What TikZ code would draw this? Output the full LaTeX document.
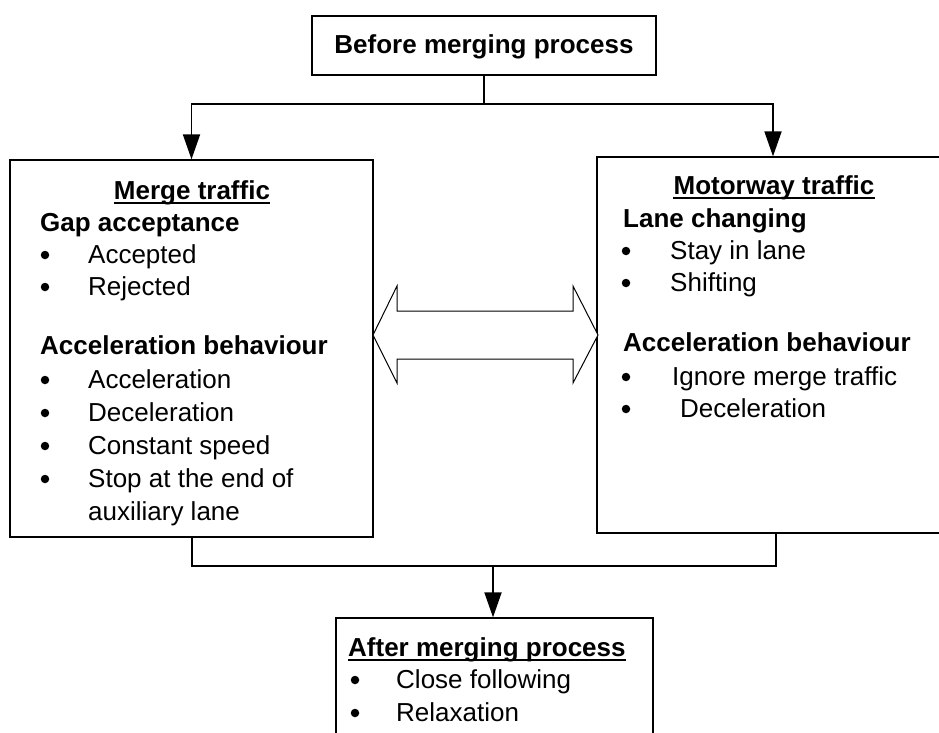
\documentclass[tikz,border=0pt]{standalone}
\usepackage{fontspec}
\setmainfont{Liberation Sans}
\usetikzlibrary{arrows.meta}
\begin{document}
\begin{tikzpicture}[x=1pt,y=-1pt,
  box/.style={draw=black, line width=1.3pt, inner sep=0pt, fill=white},
  conn/.style={line width=1.8pt},
  arr/.style={conn, -{Triangle[length=25pt,width=17pt]}},
  txt/.style={anchor=base west, inner sep=0pt, font=\fontsize{26}{31}\selectfont},
  btxt/.style={anchor=base west, inner sep=0pt, font=\fontsize{26}{31}\selectfont\bfseries},
  ctxt/.style={anchor=base, inner sep=0pt, font=\fontsize{26}{31}\selectfont\bfseries},
  bul/.style={fill=black, circle, inner sep=0pt, minimum size=8.5pt},
  uline/.style={line width=2pt}
]
\useasboundingbox (0,0) rectangle (939,733);
\fill[white] (0,0) rectangle (939,733);
\clip (0,0) rectangle (939,733);

% boxes
\node[box, minimum width=344pt, minimum height=59pt] (top) at (484,45.5) {};
\node[box, minimum width=363pt, minimum height=377pt] (left) at (191.5,348.5) {};
\node[box, minimum width=363pt, minimum height=376pt] (right) at (778.5,345) {};
\node[box, minimum width=317pt, minimum height=127pt] (bottom) at (494.5,681.5) {};

% top text
\node[ctxt] (ttl) at (484,54) {Before merging process};

% connectors from top
\coordinate (split) at (484,104);
\coordinate (lin) at (191.5,104);
\coordinate (rin) at (773,104);
\draw[conn] (top.south) -- (split);
\draw[arr] (split) -- (lin) -- (left.north);
\draw[arr] (split) -- (rin) -- (rin |- right.north);

% connectors to bottom
\coordinate (lout) at (192,566);
\coordinate (rout) at (776,566);
\coordinate (join) at (493,566);
\draw[conn] (lout |- left.south) -- (lout) -- (rout) -- (rout |- right.south);
\draw[arr] (join) -- (join |- bottom.north);

% double arrow between boxes
\draw[line width=1pt, fill=white] (373,335) -- (397,286) -- (397,311) -- (573,311) -- (573,286)
  -- (598,335) -- (573,383) -- (573,359) -- (397,359) -- (397,383) -- cycle;

% left box text
\node[ctxt] (lt) at (192,199) {Merge traffic};
\draw[uline] ([yshift=-4pt]lt.base west) -- ([yshift=-4pt]lt.base east);
\node[btxt] (lh1) at (40,231) {Gap acceptance};
\node[bul] (lb1) at (45,255) {};
\node[txt] (li1) at (88,263) {Accepted};
\node[bul] (lb2) at (45,287) {};
\node[txt] (li2) at (88,295) {Rejected};
\node[btxt] (lh2) at (40,354) {Acceleration behaviour};
\node[bul] (lb3) at (45,380) {};
\node[txt] (li3) at (88,388) {Acceleration};
\node[bul] (lb4) at (45,413) {};
\node[txt] (li4) at (88,421) {Deceleration};
\node[bul] (lb5) at (45,446) {};
\node[txt] (li5) at (88,454) {Constant speed};
\node[bul] (lb6) at (45,479) {};
\node[txt] (li6) at (88,487) {Stop at the end of};
\node[txt] (li7) at (88,520) {auxiliary lane};

% right box text
\node[ctxt] (rt) at (774,194) {Motorway traffic};
\draw[uline] ([yshift=-4pt]rt.base west) -- ([yshift=-4pt]rt.base east);
\node[btxt] (rh1) at (623,227) {Lane changing};
\node[bul] (rb1) at (626,251) {};
\node[txt] (ri1) at (670,259) {Stay in lane};
\node[bul] (rb2) at (626,283) {};
\node[txt] (ri2) at (670,291) {Shifting};
\node[btxt] (rh2) at (623,351) {Acceleration behaviour};
\node[bul] (rb3) at (626,377) {};
\node[txt] (ri3) at (672,385) {Ignore merge traffic};
\node[bul] (rb4) at (626,409) {};
\node[txt] (ri4) at (680,417) {Deceleration};

% bottom box text
\node[btxt] (bt) at (348,656) {After merging process};
\draw[uline] ([yshift=-4pt]bt.base west) -- ([yshift=-4pt]bt.base east);
\node[bul] (bb1) at (355,680) {};
\node[txt] (bi1) at (396,688) {Close following};
\node[bul] (bb2) at (355,713) {};
\node[txt] (bi2) at (396,721) {Relaxation};
\end{tikzpicture}
\end{document}
